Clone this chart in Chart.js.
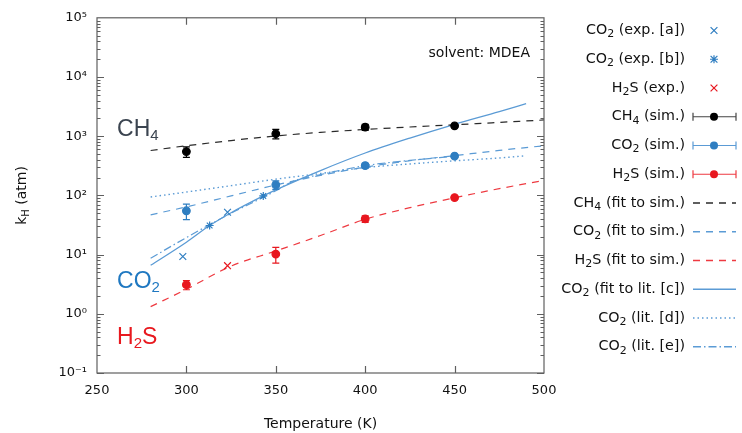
<!DOCTYPE html>
<html><head><meta charset="utf-8">
<script src="https://cdn.jsdelivr.net/npm/chart.js@4.4.0/dist/chart.umd.min.js"></script>
<style>html,body{margin:0;padding:0;background:#fff;}#wrap{width:742px;height:433px;}</style>
</head><body><div id="wrap"><canvas id="c" width="742" height="433"></canvas></div>
<script>
// ---------- data ----------
const simTemps = [300, 350, 400, 450];
const ch4Sim = [550, 1100, 1420, 1500];
const ch4SimErr = [110, 200, 170, 80];
const co2Sim = [55, 151, 318, 461];
const co2SimErr = [16, 25, 30, 25];
const h2sSim = [3.1, 10.2, 40, 92];
const h2sSimErr = [0.55, 3, 5, 6];

const co2ExpATemps = [298, 323];
const co2ExpA = [9.3, 52];
const co2ExpBTemps = [313, 343];
const co2ExpB = [31, 98];
const h2sExpTemps = [323];
const h2sExp = [6.5];

const fitTemps = [280, 300, 325, 350, 375, 400, 425, 450, 475, 500];
const ch4Fit = [574, 690, 845, 1010, 1160, 1300, 1430, 1560, 1710, 1880];
const co2Fit = [47, 64, 98, 150, 218, 300, 385, 470, 575, 690];
const h2sFit = [1.32, 2.6, 6.4, 11.5, 21, 39.5, 62, 91, 130, 179];

const litCTemps = [280, 300, 313, 325, 343, 350, 375, 400, 425, 450, 475, 490];
const litC = [6.6, 16.2, 31, 51, 98, 124, 263, 520, 930, 1590, 2600, 3550];
const litDTemps = [280, 300, 325, 350, 375, 400, 425, 450, 475, 490];
const litD = [94, 114, 146, 188, 234, 295, 340, 384, 429, 467];
const litETemps = [280, 300, 325, 343, 350, 360, 375, 400, 425, 450];
const litE = [8.7, 19.4, 50, 93, 120, 175, 225, 318, 390, 460];

const xTicks = [250, 300, 350, 400, 450, 500];
const yTicks = [0.1, 1, 10, 100, 1000, 10000, 100000];

// in-plot species labels (data coordinates of left/baseline)
const speciesLabels = ['CH', 'CO', 'H'];
const speciesSubs = ['4', '2', '2'];
const speciesTails = ['', '', 'S'];
const speciesLabelT = [261.2, 261.2, 261.2];
const speciesLabelK = [1010, 2.75, 0.303];

// ---------- styles ----------
const BLACK = '#000000', BLACKLINE = '#2a2a2a';
const BLUEPT = '#2f7ec1', BLUELINE = '#5b9bd5';
const REDPT = '#e8171f', REDLINE = '#ee3a41';
const LABELCOL = ['#3b4450', '#1f78c1', '#e8191f'];
const DASH = [7, 6], DOT = [1.5, 3], DASHDOT = [8, 3, 1.5, 3];
const FONT = '"DejaVu Sans", Verdana, sans-serif';

const pts = (xs, ys) => xs.map((x, i) => ({x: x, y: ys[i]}));

function lineDS(label, xs, ys, color, dash, w) {
  return {label, data: pts(xs, ys), showLine: true, borderColor: color, backgroundColor: color,
    borderWidth: w || 1.2, borderDash: dash, pointRadius: 0, cubicInterpolationMode: 'monotone', fill: false};
}
function markDS(label, xs, ys, color, style, r) {
  return {label, data: pts(xs, ys), showLine: false, borderColor: color, backgroundColor: color,
    pointStyle: style, pointRadius: r, pointBorderWidth: 1.2, pointHoverRadius: r};
}

const datasets = [
  markDS('CO2 (exp. [a])', co2ExpATemps, co2ExpA, BLUEPT, 'crossRot', 4.8),
  markDS('CO2 (exp. [b])', co2ExpBTemps, co2ExpB, BLUEPT, 'star', 4),
  markDS('H2S (exp.)', h2sExpTemps, h2sExp, REDPT, 'crossRot', 4.8),
  markDS('CH4 (sim.)', simTemps, ch4Sim, BLACK, 'circle', 3.8),
  markDS('CO2 (sim.)', simTemps, co2Sim, BLUEPT, 'circle', 3.8),
  markDS('H2S (sim.)', simTemps, h2sSim, REDPT, 'circle', 3.8),
  lineDS('CH4 (fit to sim.)', fitTemps, ch4Fit, BLACKLINE, DASH),
  lineDS('CO2 (fit to sim.)', fitTemps, co2Fit, BLUELINE, DASH),
  lineDS('H2S (fit to sim.)', fitTemps, h2sFit, REDLINE, DASH),
  lineDS('CO2 (fit to lit. [c])', litCTemps, litC, BLUELINE, [], 1.3),
  lineDS('CO2 (lit. [d])', litDTemps, litD, BLUELINE, DOT, 1.4),
  lineDS('CO2 (lit. [e])', litETemps, litE, BLUELINE, DASHDOT, 1.2)
];
const errSets = [
  {vals: ch4Sim, err: ch4SimErr, color: BLACK},
  {vals: co2Sim, err: co2SimErr, color: BLUEPT},
  {vals: h2sSim, err: h2sSimErr, color: REDPT}
];

// legend rows: text parts [text, isSub]
const legendRows = [
  {parts: [['CO',0],['2',1],[' (exp. [a])',0]], kind: 'mark', style: 'x', color: BLUEPT},
  {parts: [['CO',0],['2',1],[' (exp. [b])',0]], kind: 'mark', style: 'star', color: BLUEPT},
  {parts: [['H',0],['2',1],['S (exp.)',0]], kind: 'mark', style: 'x', color: REDPT},
  {parts: [['CH',0],['4',1],[' (sim.)',0]], kind: 'err', color: BLACK, lcolor: '#444'},
  {parts: [['CO',0],['2',1],[' (sim.)',0]], kind: 'err', color: BLUEPT, lcolor: BLUELINE},
  {parts: [['H',0],['2',1],['S (sim.)',0]], kind: 'err', color: REDPT, lcolor: REDLINE},
  {parts: [['CH',0],['4',1],[' (fit to sim.)',0]], kind: 'line', dash: DASH, color: BLACKLINE},
  {parts: [['CO',0],['2',1],[' (fit to sim.)',0]], kind: 'line', dash: DASH, color: BLUELINE},
  {parts: [['H',0],['2',1],['S (fit to sim.)',0]], kind: 'line', dash: DASH, color: REDLINE},
  {parts: [['CO',0],['2',1],[' (fit to lit. [c])',0]], kind: 'line', dash: [], color: BLUELINE},
  {parts: [['CO',0],['2',1],[' (lit. [d])',0]], kind: 'line', dash: DOT, color: BLUELINE},
  {parts: [['CO',0],['2',1],[' (lit. [e])',0]], kind: 'line', dash: DASHDOT, color: BLUELINE}
];

const SUP = {'-':'\u207B','0':'\u2070','1':'\u00B9','2':'\u00B2','3':'\u00B3','4':'\u2074','5':'\u2075','6':'\u2076','7':'\u2077','8':'\u2078','9':'\u2079'};
function pow10Label(v) {
  const e = Math.round(Math.log10(v));
  return '10' + String(e).split('').map(c => SUP[c]).join('');
}

function drawRich(ctx, parts, x, y, size, subSize, subDy, align) {
  const widths = parts.map(p => { ctx.font = (p[1] ? subSize : size) + 'px ' + FONT; return ctx.measureText(p[0]).width; });
  const total = widths.reduce((a, b) => a + b, 0);
  let cx = align === 'right' ? x - total : (align === 'center' ? x - total / 2 : x);
  parts.forEach((p, i) => {
    ctx.font = (p[1] ? subSize : size) + 'px ' + FONT;
    ctx.fillText(p[0], cx, y + (p[1] ? subDy : 0));
    cx += widths[i];
  });
}

const decor = {
  id: 'decor',
  afterDatasetsDraw(chart) {
    const {ctx, scales: {x, y}} = chart;
    ctx.save();
    ctx.lineWidth = 1.2;
    errSets.forEach(s => {
      ctx.strokeStyle = s.color;
      ctx.beginPath();
      simTemps.forEach((t, i) => {
        const px = x.getPixelForValue(t);
        const y1 = y.getPixelForValue(s.vals[i] + s.err[i]);
        const y2 = y.getPixelForValue(s.vals[i] - s.err[i]);
        ctx.moveTo(px, y1); ctx.lineTo(px, y2);
        ctx.moveTo(px - 3.5, y1); ctx.lineTo(px + 3.5, y1);
        ctx.moveTo(px - 3.5, y2); ctx.lineTo(px + 3.5, y2);
      });
      ctx.stroke();
    });
    ctx.restore();
  },
  afterDraw(chart) {
    const {ctx, chartArea: a, scales: {x, y}} = chart;
    ctx.save();
    // frame
    ctx.strokeStyle = '#5f5f5f'; ctx.lineWidth = 1.2;
    ctx.strokeRect(a.left, a.top, a.right - a.left, a.bottom - a.top);
    ctx.beginPath();
    xTicks.forEach(v => {
      if (v <= x.min || v >= x.max) return;
      const px = Math.round(x.getPixelForValue(v)) + 0.5;
      ctx.moveTo(px, a.bottom); ctx.lineTo(px, a.bottom - 7);
      ctx.moveTo(px, a.top); ctx.lineTo(px, a.top + 7);
    });
    for (let e = -1; e < 5; e++) {
      for (let m = 1; m < 10; m++) {
        const v = m * Math.pow(10, e);
        const py = Math.round(y.getPixelForValue(v)) + 0.5;
        const L = m === 1 ? 7 : 3.5;
        ctx.moveTo(a.left, py); ctx.lineTo(a.left + L, py);
        ctx.moveTo(a.right, py); ctx.lineTo(a.right - L, py);
      }
    }
    ctx.stroke();

    // species labels
    ctx.textBaseline = 'alphabetic';
    speciesLabels.forEach((lab, i) => {
      ctx.fillStyle = LABELCOL[i];
      const px = x.getPixelForValue(speciesLabelT[i]);
      const py = y.getPixelForValue(speciesLabelK[i]);
      const parts = [[lab, 0], [speciesSubs[i], 1]];
      if (speciesTails[i]) parts.push([speciesTails[i], 0]);
      ctx.save();
      const F = '"Liberation Sans", Arial, sans-serif';
      let cx = px;
      parts.forEach(p => {
        ctx.font = (p[1] ? 15 : 23) + 'px ' + F;
        ctx.fillText(p[0], cx, py + (p[1] ? 4 : 0));
        cx += ctx.measureText(p[0]).width;
      });
      ctx.restore();
    });

    // solvent note
    ctx.fillStyle = '#111';
    ctx.font = '14px ' + FONT;
    ctx.textAlign = 'right';
    ctx.textBaseline = 'middle';
    ctx.fillText('solvent: MDEA', a.right - 14, a.top + 36);
    ctx.textAlign = 'left';

    // y axis title
    ctx.save();
    ctx.translate(22, (a.top + a.bottom) / 2);
    ctx.rotate(-Math.PI / 2);
    ctx.fillStyle = '#111';
    ctx.textBaseline = 'middle';
    drawRich(ctx, [['k',0],['H',1],[' (atm)',0]], 0, 0, 14, 10, 4, 'center');
    ctx.restore();

    // legend
    const textRight = 685, sx0 = 693, sx1 = 736, sxc = 714;
    legendRows.forEach((r, i) => {
      const yc = 30.5 + i * 28.75;
      ctx.fillStyle = '#111';
      ctx.textBaseline = 'middle';
      drawRich(ctx, r.parts, textRight, yc, 14.3, 11, 4, 'right');
      ctx.save();
      ctx.lineWidth = 1.2;
      if (r.kind === 'mark') {
        ctx.strokeStyle = r.color;
        const d = 3.4;
        ctx.beginPath();
        ctx.moveTo(sxc - d, yc - d); ctx.lineTo(sxc + d, yc + d);
        ctx.moveTo(sxc - d, yc + d); ctx.lineTo(sxc + d, yc - d);
        if (r.style === 'star') {
          ctx.moveTo(sxc - 4, yc); ctx.lineTo(sxc + 4, yc);
          ctx.moveTo(sxc, yc - 4); ctx.lineTo(sxc, yc + 4);
        }
        ctx.stroke();
      } else if (r.kind === 'err') {
        ctx.strokeStyle = r.lcolor;
        ctx.beginPath();
        ctx.moveTo(sx0, yc); ctx.lineTo(sx1, yc);
        ctx.moveTo(sx0, yc - 4); ctx.lineTo(sx0, yc + 4);
        ctx.moveTo(sx1, yc - 4); ctx.lineTo(sx1, yc + 4);
        ctx.stroke();
        ctx.fillStyle = r.color;
        ctx.beginPath(); ctx.arc(sxc, yc, 4, 0, Math.PI * 2); ctx.fill();
      } else {
        ctx.strokeStyle = r.color;
        ctx.lineWidth = r.dash === DOT ? 1.4 : 1.3;
        ctx.setLineDash(r.dash);
        ctx.beginPath(); ctx.moveTo(sx0, yc); ctx.lineTo(sx1, yc); ctx.stroke();
      }
      ctx.restore();
    });
    ctx.restore();
  }
};

new Chart(document.getElementById('c'), {
  type: 'scatter',
  data: {datasets},
  options: {
    responsive: false,
    animation: false,
    devicePixelRatio: 1,
    layout: {padding: {top: 14, right: 198, left: 0, bottom: 0}},
    plugins: {legend: {display: false}, tooltip: {enabled: false}},
    scales: {
      x: {
        type: 'linear', min: 250, max: 500,
        afterBuildTicks: s => { s.ticks = xTicks.map(v => ({value: v})); },
        afterFit: s => { s.height = 60; },
        grid: {display: false, drawTicks: false},
        border: {display: false},
        ticks: {font: {family: FONT, size: 13}, color: '#111', padding: 10, maxRotation: 0},
        title: {display: true, text: 'Temperature (K)', font: {family: FONT, size: 14}, color: '#111', padding: {top: 0, bottom: 0}}
      },
      y: {
        type: 'logarithmic', min: 0.1, max: 100000,
        afterBuildTicks: s => { s.ticks = yTicks.map(v => ({value: v})); },
        afterFit: s => { s.width = 97; },
        grid: {display: false, drawTicks: false},
        border: {display: false},
        ticks: {font: {family: FONT, size: 13}, color: '#111', padding: 10, callback: v => pow10Label(v)}
      }
    }
  },
  plugins: [decor]
});
</script>
</body></html>
